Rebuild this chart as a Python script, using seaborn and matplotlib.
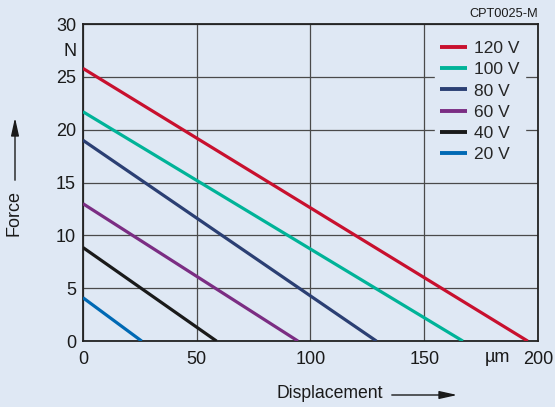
import pandas as pd
import seaborn as sns
import matplotlib.pyplot as plt

# voltage series: blocking force at 0 displacement, free stroke at 0 force
voltages = ["120 V", "100 V", "80 V", "60 V", "40 V", "20 V"]
force_at_zero = [25.8, 21.7, 19.0, 13.0, 8.85, 4.1]
max_displacement = [195.5, 167.0, 129.0, 94.5, 58.7, 25.8]
line_colors = ["#c8102e", "#00b398", "#2b3f73", "#7b2d83", "#1a1a1a", "#0069b4"]

x_ticks = [0, 50, 100, 150, 200]
y_ticks = [0, 5, 10, 15, 20, 25, 30]

bg = "#dfe8f4"

sns.set_theme(style="white")
plt.rcParams["font.family"] = ["Liberation Sans", "DejaVu Sans"]

rows = []
for v, f0, dmax in zip(voltages, force_at_zero, max_displacement):
    rows.append({"voltage": v, "displacement": 0.0, "force": f0})
    rows.append({"voltage": v, "displacement": dmax, "force": 0.0})
df = pd.DataFrame(rows)

fig = plt.figure(figsize=(5.55, 4.07), dpi=100, facecolor=bg)
ax = fig.add_axes([0.1495, 0.162, 0.8198, 0.779])
ax.set_facecolor(bg)

sns.lineplot(
    data=df,
    x="displacement",
    y="force",
    hue="voltage",
    hue_order=voltages,
    palette=line_colors,
    linewidth=2.3,
    ax=ax,
    zorder=3,
    solid_capstyle="butt",
)

ax.set_xlim(0, 200)
ax.set_ylim(0, 30)
ax.set_xticks(x_ticks)
ax.set_yticks(y_ticks)
ax.set_xticklabels(["0", "50", "100", "150", "200"])
ax.set_yticklabels([str(t) for t in y_ticks])
ax.tick_params(axis="both", length=0, labelsize=13, colors="#1a1a1a")
ax.tick_params(axis="x", pad=7)
ax.tick_params(axis="y", pad=5)
ax.grid(True, color="#4a4a4a", linewidth=0.9)
for s in ax.spines.values():
    s.set_color("#222222")
    s.set_linewidth(1.3)
    s.set_visible(True)
ax.set_xlabel("")
ax.set_ylabel("")

# unit labels between ticks
ax.text(-3, 27.4, "N", ha="right", va="center", fontsize=13, color="#1a1a1a")
ax.text(182, -1.55, "µm", ha="center", va="center", fontsize=13, color="#1a1a1a")

leg = ax.legend(
    loc="upper left",
    bbox_to_anchor=(0.774, 0.962),
    frameon=True,
    fontsize=12.5,
    handlelength=1.55,
    handletextpad=0.4,
    labelspacing=0.34,
    borderpad=0.3,
    borderaxespad=0,
)
leg.get_frame().set_facecolor(bg)
leg.get_frame().set_edgecolor(bg)
leg.get_frame().set_alpha(1)
for line in leg.get_lines():
    line.set_linewidth(2.8)

fig.text(0.969, 0.965, "CPT0025-M", ha="right", va="center", fontsize=9.2, color="#1a1a1a")

# axis titles with arrows
fig.text(0.026, 1 - 213 / 407, "Force", rotation=90, ha="center", va="center",
         fontsize=13, color="#1a1a1a")
ax.annotate("", xy=(15 / 555, 1 - 115 / 407), xytext=(15 / 555, 1 - 183 / 407),
            xycoords="figure fraction", textcoords="figure fraction",
            arrowprops=dict(arrowstyle="-|>,head_length=0.9,head_width=0.2",
                            color="#1a1a1a", lw=1.0))
fig.text(276 / 555, 1 - 394 / 407, "Displacement", ha="left", va="center",
         fontsize=12.7, color="#1a1a1a")
ax.annotate("", xy=(460 / 555, 1 - 395 / 407), xytext=(389 / 555, 1 - 395 / 407),
            xycoords="figure fraction", textcoords="figure fraction",
            arrowprops=dict(arrowstyle="-|>,head_length=0.9,head_width=0.2",
                            color="#1a1a1a", lw=1.0))

fig.savefig("out.png", dpi=100, facecolor=bg)
